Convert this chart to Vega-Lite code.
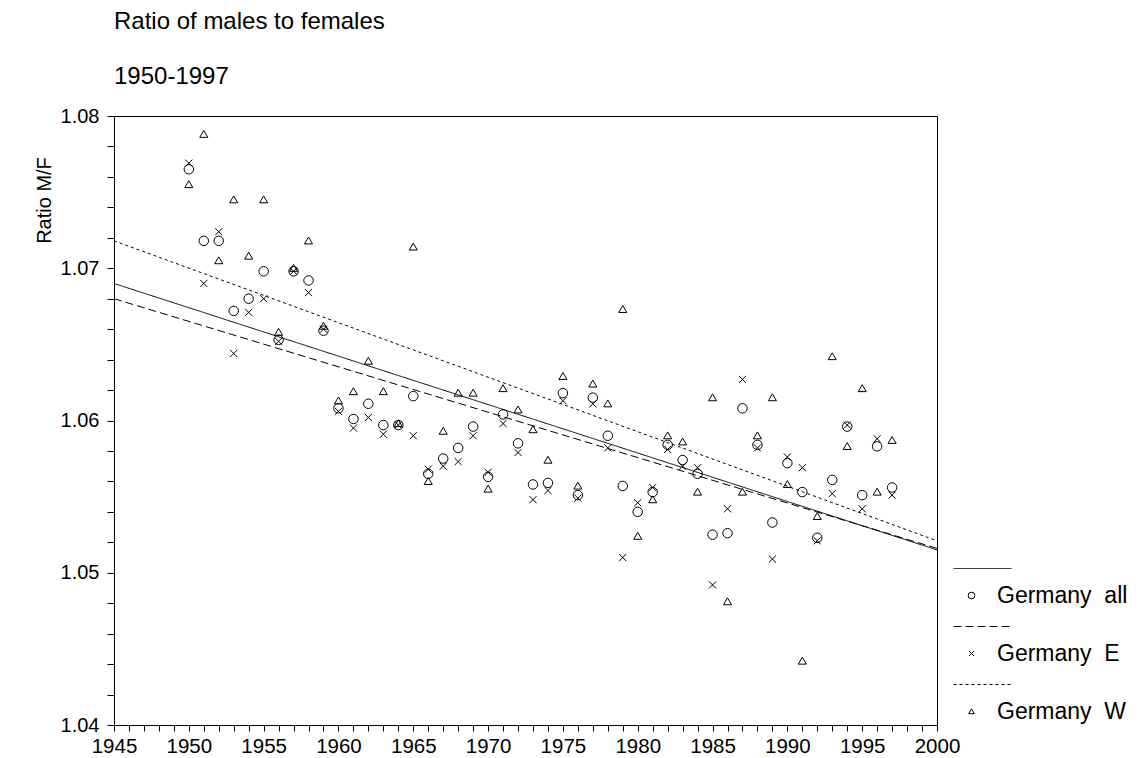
{
  "$schema": "https://vega.github.io/schema/vega-lite/v6.json",
  "width": 823,
  "height": 609,
  "autosize": {"type": "none"},
  "padding": {"left": 114, "top": 116, "right": 202, "bottom": 33},
  "background": "white",
  "config": {
    "font": "Liberation Sans",
    "view": {"stroke": "black", "strokeWidth": 1},
    "axis": {"domain": false, "grid": false, "tickColor": "black", "tickWidth": 1, "labelColor": "black", "titleColor": "black", "labelFont": "Liberation Sans", "titleFont": "Liberation Sans"}
  },
  "title": {
    "text": "Ratio of males to females",
    "subtitle": "1950-1997",
    "anchor": "start",
    "frame": "group",
    "font": "Liberation Sans",
    "subtitleFont": "Liberation Sans",
    "fontSize": 24,
    "subtitleFontSize": 24,
    "fontWeight": "normal",
    "color": "black",
    "subtitleColor": "black",
    "subtitlePadding": 31,
    "offset": 17
  },
  "datasets": {
    "pts": [
      {"year": 1950, "all": 1.0765, "E": 1.0769, "W": 1.0755},
      {"year": 1951, "all": 1.0718, "E": 1.0690, "W": 1.0788},
      {"year": 1952, "all": 1.0718, "E": 1.0724, "W": 1.0705},
      {"year": 1953, "all": 1.0672, "E": 1.0644, "W": 1.0745},
      {"year": 1954, "all": 1.0680, "E": 1.0671, "W": 1.0708},
      {"year": 1955, "all": 1.0698, "E": 1.0680, "W": 1.0745},
      {"year": 1956, "all": 1.0653, "E": 1.0652, "W": 1.0658},
      {"year": 1957, "all": 1.0698, "E": 1.0698, "W": 1.0700},
      {"year": 1958, "all": 1.0692, "E": 1.0684, "W": 1.0718},
      {"year": 1959, "all": 1.0659, "E": 1.0660, "W": 1.0662},
      {"year": 1960, "all": 1.0608, "E": 1.0606, "W": 1.0613},
      {"year": 1961, "all": 1.0601, "E": 1.0595, "W": 1.0619},
      {"year": 1962, "all": 1.0611, "E": 1.0602, "W": 1.0639},
      {"year": 1963, "all": 1.0597, "E": 1.0591, "W": 1.0619},
      {"year": 1964, "all": 1.0597, "E": 1.0597, "W": 1.0598},
      {"year": 1965, "all": 1.0616, "E": 1.0590, "W": 1.0714},
      {"year": 1966, "all": 1.0565, "E": 1.0568, "W": 1.0560},
      {"year": 1967, "all": 1.0575, "E": 1.0570, "W": 1.0593},
      {"year": 1968, "all": 1.0582, "E": 1.0573, "W": 1.0618},
      {"year": 1969, "all": 1.0596, "E": 1.0590, "W": 1.0618},
      {"year": 1970, "all": 1.0563, "E": 1.0566, "W": 1.0555},
      {"year": 1971, "all": 1.0604, "E": 1.0598, "W": 1.0621},
      {"year": 1972, "all": 1.0585, "E": 1.0579, "W": 1.0607},
      {"year": 1973, "all": 1.0558, "E": 1.0548, "W": 1.0594},
      {"year": 1974, "all": 1.0559, "E": 1.0554, "W": 1.0574},
      {"year": 1975, "all": 1.0618, "E": 1.0613, "W": 1.0629},
      {"year": 1976, "all": 1.0551, "E": 1.0549, "W": 1.0557},
      {"year": 1977, "all": 1.0615, "E": 1.0611, "W": 1.0624},
      {"year": 1978, "all": 1.0590, "E": 1.0582, "W": 1.0611},
      {"year": 1979, "all": 1.0557, "E": 1.0510, "W": 1.0673},
      {"year": 1980, "all": 1.0540, "E": 1.0546, "W": 1.0524},
      {"year": 1981, "all": 1.0553, "E": 1.0556, "W": 1.0548},
      {"year": 1982, "all": 1.0584, "E": 1.0581, "W": 1.0590},
      {"year": 1983, "all": 1.0574, "E": 1.0570, "W": 1.0586},
      {"year": 1984, "all": 1.0565, "E": 1.0569, "W": 1.0553},
      {"year": 1985, "all": 1.0525, "E": 1.0492, "W": 1.0615},
      {"year": 1986, "all": 1.0526, "E": 1.0542, "W": 1.0481},
      {"year": 1987, "all": 1.0608, "E": 1.0627, "W": 1.0553},
      {"year": 1988, "all": 1.0584, "E": 1.0582, "W": 1.0590},
      {"year": 1989, "all": 1.0533, "E": 1.0509, "W": 1.0615},
      {"year": 1990, "all": 1.0572, "E": 1.0576, "W": 1.0558},
      {"year": 1991, "all": 1.0553, "E": 1.0569, "W": 1.0442},
      {"year": 1992, "all": 1.0523, "E": 1.0521, "W": 1.0537},
      {"year": 1993, "all": 1.0561, "E": 1.0552, "W": 1.0642},
      {"year": 1994, "all": 1.0596, "E": 1.0597, "W": 1.0583},
      {"year": 1995, "all": 1.0551, "E": 1.0542, "W": 1.0621},
      {"year": 1996, "all": 1.0583, "E": 1.0588, "W": 1.0553},
      {"year": 1997, "all": 1.0556, "E": 1.0551, "W": 1.0587}
    ],
    "fits": [
      {"fit": "fit all", "year": 1945, "ratio": 1.0690},
      {"fit": "fit all", "year": 2000, "ratio": 1.0515},
      {"fit": "fit E", "year": 1945, "ratio": 1.0680},
      {"fit": "fit E", "year": 2000, "ratio": 1.0516},
      {"fit": "fit W", "year": 1945, "ratio": 1.0718},
      {"fit": "fit W", "year": 2000, "ratio": 1.0521}
    ]
  },
  "encoding": {
    "x": {
      "field": "year",
      "type": "quantitative",
      "scale": {"domain": [1945, 2000], "nice": false, "zero": false},
      "axis": {
        "title": null,
        "values": [1945,1946,1947,1948,1949,1950,1951,1952,1953,1954,1955,1956,1957,1958,1959,1960,1961,1962,1963,1964,1965,1966,1967,1968,1969,1970,1971,1972,1973,1974,1975,1976,1977,1978,1979,1980,1981,1982,1983,1984,1985,1986,1987,1988,1989,1990,1991,1992,1993,1994,1995,1996,1997,1998,1999,2000],
        "format": "d",
        "labelExpr": "datum.value % 5 === 0 ? datum.label : ''",
        "labelOverlap": false,
        "labelBound": false,
        "labelFlush": false,
        "labelFontSize": 20.5,
        "labelPadding": 5,
        "tickSize": 6
      }
    },
    "y": {
      "field": "ratio",
      "type": "quantitative",
      "scale": {"domain": [1.04, 1.08], "nice": false, "zero": false},
      "axis": {
        "title": "Ratio M/F",
        "titleFontSize": 20,
        "titleFontWeight": "normal",
        "titleAngle": -90,
        "titleAlign": "center",
        "titleBaseline": "alphabetic",
        "titleX": -64,
        "titleY": 84,
        "values": [1.04,1.042,1.044,1.046,1.048,1.05,1.052,1.054,1.056,1.058,1.06,1.062,1.064,1.066,1.068,1.07,1.072,1.074,1.076,1.078,1.08],
        "labelExpr": "round(datum.value * 1000) % 10 === 0 ? format(datum.value, '.2f') : ''",
        "labelOverlap": false,
        "labelBound": false,
        "labelFlush": false,
        "labelFontSize": 20,
        "labelPadding": 8,
        "tickSize": 7
      }
    }
  },
  "layer": [
    {
      "data": {"name": "fits"},
      "mark": {"type": "line", "color": "black", "strokeWidth": 1},
      "encoding": {
        "strokeDash": {
          "field": "fit",
          "type": "nominal",
          "scale": {"domain": ["fit all", "fit E", "fit W"], "range": [[1, 0], [8, 4], [3, 3]]},
          "legend": {
            "orient": "none",
            "legendX": 839,
            "legendY": 423,
            "title": null,
            "padding": 0,
            "symbolType": "stroke",
            "symbolSize": 3364,
            "symbolStrokeColor": "black",
            "symbolStrokeWidth": 1,
            "labelExpr": "''",
            "rowPadding": 23
          }
        }
      }
    },
    {
      "data": {"name": "pts"},
      "transform": [{"fold": ["all", "E", "W"], "as": ["series", "ratio"]}],
      "mark": {"type": "point", "filled": false, "color": "black", "strokeWidth": 1, "opacity": 1, "size": 90},
      "encoding": {
        "shape": {
          "field": "series",
          "type": "nominal",
          "scale": {"domain": ["all", "E", "W"], "range": ["circle", "M-0.75,-0.75L0.75,0.75M-0.75,0.75L0.75,-0.75", "M0,-0.8L-0.85,0.65L0.85,0.65Z"]},
          "legend": {
            "orient": "none",
            "legendX": 846,
            "legendY": 468,
            "title": null,
            "padding": 0,
            "symbolSize": 45,
            "symbolStrokeColor": "black",
            "symbolFillColor": "transparent",
            "symbolStrokeWidth": 1,
            "labelFontSize": 23,
            "labelColor": "black",
            "labelOffset": 14,
            "rowPadding": 34,
            "labelExpr": "'Germany\u00a0 ' + datum.label"
          }
        }
      }
    }
  ]
}
